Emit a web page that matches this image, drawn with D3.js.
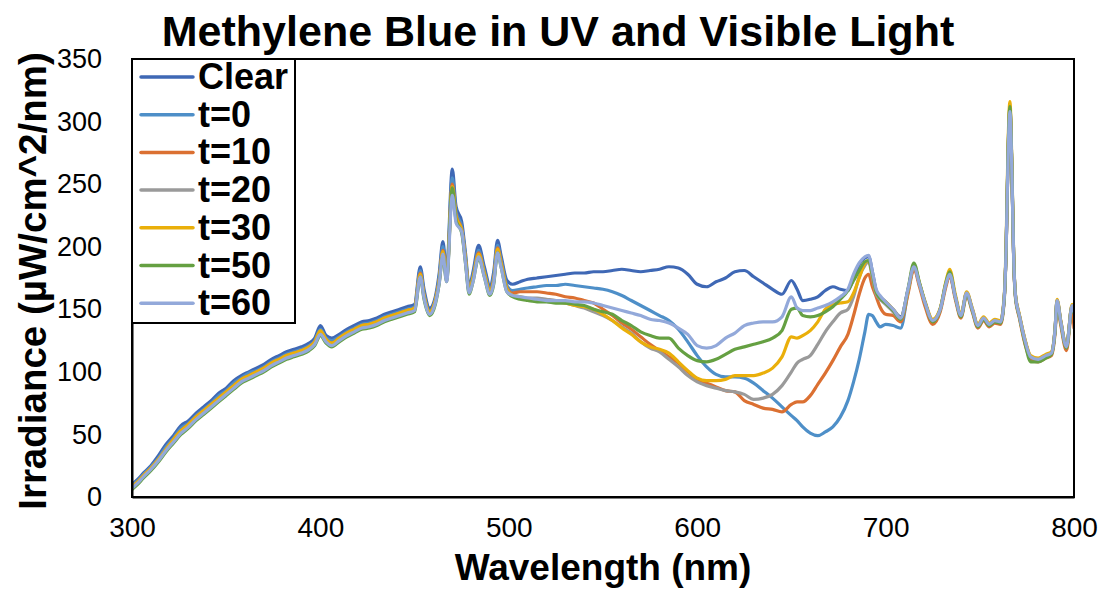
<!DOCTYPE html>
<html><head><meta charset="utf-8">
<script src="https://cdn.jsdelivr.net/npm/d3@7"></script>
<style>
html,body{margin:0;padding:0;background:#fff;}
text{font-family:Arial,"Liberation Sans",sans-serif;}
</style></head>
<body><svg id="c" width="1105" height="590"></svg>
<script>
// ---------- DATA ----------
const wavelength = [
 300,303,306,310,314,318,322,326,330,334,
 338,342,346,350,354,358,362,366,370,374,
 378,382,386,390,394,397,400,403,406,410,
 414,418,422,426,430,434,438,442,446,450,
 453,455,458,461,463,465,467,470,472,475,
 477,479,481,484,487,490,492,494,496,499,
 502,506,510,515,520,525,530,535,540,545,
 550,555,560,565,570,575,580,585,590,595,
 600,605,610,615,620,625,630,635,640,645,
 650,653,656,660,664,668,672,676,680,683,
 686,689,691,693,695,697,700,704,708,712,
 715,718,721,725,729,732,734,737,740,743,
 746,749,752,755,758,761,763,764,765,766,
 767,768,769,771,774,777,781,785,788,790,
 791,793,796,799,800
];
const seriesNames = ["Clear","t=0","t=10","t=20","t=30","t=50","t=60"];
const clear = [
 10,14,19,25,33,42,49,57,61,67,
 72,77,83,87,93,97,100,103,106,110,
 113,116,118,120,123,127,137,129,127,130,
 134,137,140,141,143,146,148,150,152,154,
 184,166,151,160,178,204,180,262,232,220,
 195,168,180,201,184,169,180,205,192,173,
 170,172,174,175,176,177,178,179,179,180,
 180,181,182,181,180,181,182,184,183,178,
 170,168,172,175,180,181,176,171,166,162,
 173,166,157,158,160,165,168,166,165,175,
 186,191,192,180,165,160,156,150,144,166,
 183,170,155,141,150,170,177,160,145,163,
 150,137,143,138,141,140,160,200,272,310,
 262,190,160,145,125,112,110,113,115,135,
 157,140,120,153,148
];
const t0 = [
 9,13,18,24,31,40,47,55,59,65,
 70,75,81,85,91,95,99,101,104,108,
 111,114,116,118,121,125,134,127,125,128,
 132,135,138,139,141,144,146,148,150,152,
 181,163,149,158,175,200,177,255,228,216,
 192,166,177,197,181,166,177,201,189,169,
 165,166,167,168,169,169,170,169,168,167,
 166,164,161,157,153,149,145,141,134,124,
 113,104,98,96,96,95,91,85,79,72,
 65,61,56,51,49,52,56,64,77,92,
 110,132,146,145,140,136,138,137,135,165,
 184,170,155,141,150,170,179,160,145,163,
 150,137,143,138,141,140,160,200,275,311,
 265,190,160,145,125,112,110,113,115,135,
 157,140,120,153,148
];
const t10 = [
 8,12,17,23,30,38,46,53,58,64,
 69,74,79,84,89,94,97,100,103,107,
 110,113,115,117,120,124,132,126,123,127,
 131,134,137,138,140,143,145,147,149,151,
 179,161,148,157,173,197,175,250,225,214,
 190,165,175,195,179,164,174,199,187,167,
 163,164,164,164,163,162,160,159,157,155,
 150,145,139,134,128,122,117,112,107,100,
 94,91,88,85,84,77,74,71,70,68,
 74,76,76,81,90,99,109,120,130,145,
 162,175,178,168,160,152,146,145,140,163,
 182,168,152,138,148,168,177,158,143,161,
 148,135,141,136,139,138,158,198,270,308,
 262,188,158,143,122,110,108,111,113,132,
 154,137,117,150,135
];
const t20 = [
 8,12,16,22,30,38,45,52,57,63,
 68,73,78,83,88,93,96,99,102,106,
 109,112,114,116,119,123,131,125,122,126,
 130,133,136,137,139,142,144,146,148,150,
 177,160,147,156,171,195,174,246,223,213,
 189,164,174,193,178,163,172,197,185,166,
 161,160,159,159,158,157,155,153,151,148,
 145,141,136,131,124,119,116,110,104,97,
 92,89,87,85,84,82,78,79,82,89,
 100,107,110,113,122,132,140,147,150,160,
 176,185,188,175,162,158,154,148,142,166,
 184,170,155,141,150,170,179,160,145,163,
 150,137,143,138,141,140,160,200,275,312,
 265,190,160,145,125,112,110,113,115,135,
 157,140,120,153,148
];
const t30 = [
 8,12,17,23,30,38,46,53,58,64,
 69,74,79,84,89,94,97,100,103,107,
 110,113,115,117,120,124,133,126,123,127,
 131,134,137,138,140,143,145,147,149,151,
 178,161,148,157,172,196,175,248,224,213,
 190,165,175,194,179,164,173,198,186,166,
 161,160,158,157,157,156,155,153,152,150,
 146,141,135,130,124,120,118,115,108,101,
 95,93,93,94,97,97,97,99,103,112,
 128,127,129,133,140,150,154,155,156,163,
 175,187,189,178,164,160,156,150,143,166,
 185,171,156,142,151,172,182,162,146,164,
 151,138,144,139,142,141,162,205,282,316,
 268,192,161,146,126,113,111,114,116,136,
 158,141,121,154,149
];
const t50 = [
 6,10,15,21,28,36,43,50,55,61,
 66,71,76,81,86,91,94,97,100,104,
 107,110,112,114,117,121,129,123,120,124,
 128,131,134,135,137,140,142,144,146,148,
 176,158,145,154,170,193,172,247,221,211,
 187,162,172,191,176,161,170,195,183,164,
 160,158,157,156,156,155,155,154,153,150,
 148,146,141,137,132,129,127,127,119,113,
 109,108,110,114,118,120,122,124,127,133,
 150,151,145,144,145,148,152,158,165,173,
 181,188,189,178,164,159,155,149,142,167,
 187,171,155,140,150,171,180,160,144,162,
 149,136,142,137,140,139,159,200,276,312,
 265,190,159,144,123,108,108,111,114,134,
 156,139,119,152,147
];
const t60 = [
 7,11,16,22,29,37,44,51,56,62,
 67,72,77,82,87,92,95,98,101,105,
 108,111,113,115,118,122,130,124,121,125,
 129,132,135,136,138,141,143,145,147,149,
 176,159,146,155,170,194,172,241,219,212,
 187,163,172,192,176,162,171,195,183,164,
 161,160,159,158,157,157,157,156,156,155,
 153,151,149,147,145,142,141,139,135,130,
 121,119,121,127,131,137,139,140,140,144,
 160,151,149,149,151,153,156,160,166,178,
 187,192,193,180,166,161,156,150,143,167,
 184,170,155,141,150,170,178,160,145,163,
 150,137,143,138,141,140,160,200,272,308,
 262,190,160,145,125,112,110,113,115,135,
 157,140,120,153,148
];
const seriesValues = [clear, t0, t10, t20, t30, t50, t60];
const seriesColors = ["#3F68B5","#4E8FC8","#DB7032","#9A9A9A","#EAAF0A","#65A042","#93A9DA"];
const xTicks = [300,400,500,600,700,800];
const yTicks = [0,50,100,150,200,250,300,350];

// ---------- CHART ----------
const svg = d3.select("#c");
const L = 132, R = 1074, T = 59, B = 497;
const x = d3.scaleLinear().domain([300,800]).range([L,R]);
const y = d3.scaleLinear().domain([0,350]).range([B,T]);

svg.append("defs").append("clipPath").attr("id","clip")
  .append("rect").attr("x",L).attr("y",T-5).attr("width",R-L).attr("height",B-T+5);

const line = d3.line().x(d=>x(d[0])).y(d=>y(d[1])).curve(d3.curveMonotoneX);
const g = svg.append("g").attr("clip-path","url(#clip)");
seriesValues.forEach((vals,i)=>{
  const n = Math.min(vals.length, wavelength.length);
  const pts = d3.range(n).map(k=>[wavelength[k], vals[k]]);
  g.append("path").datum(pts).attr("d",line)
    .attr("fill","none").attr("stroke",seriesColors[i])
    .attr("stroke-width",3.2).attr("stroke-linejoin","round").attr("stroke-linecap","round");
});

// plot frame
svg.append("rect").attr("x",L).attr("y",T).attr("width",R-L).attr("height",B-T)
  .attr("fill","none").attr("stroke","#000").attr("stroke-width",2);

// axes
const xAxis = d3.axisBottom(x).tickValues(xTicks).tickSize(0).tickPadding(20);
const gx = svg.append("g").attr("transform",`translate(0,${B})`).call(xAxis);
gx.select(".domain").attr("stroke","#000").attr("stroke-width",2);
gx.selectAll("text").attr("font-size",28).attr("fill","#000")
  .attr("font-family","Arial, 'Liberation Sans', sans-serif");

const yAxis = d3.axisLeft(y).tickValues(yTicks).tickSize(0).tickPadding(30);
const gy = svg.append("g").attr("transform",`translate(${L},0)`).call(yAxis);
gy.select(".domain").attr("stroke","#000").attr("stroke-width",2);
gy.selectAll("text").attr("font-size",27).attr("fill","#000")
  .attr("font-family","Arial, 'Liberation Sans', sans-serif");

// title
svg.append("text").attr("x",558).attr("y",46).attr("text-anchor","middle")
  .attr("font-size",43).attr("font-weight","bold").text("Methylene Blue in UV and Visible Light");

// axis titles
svg.append("text").attr("x",603).attr("y",580).attr("text-anchor","middle")
  .attr("font-size",37).attr("font-weight","bold").text("Wavelength (nm)");
svg.append("text").attr("transform","translate(46,281) rotate(-90)").attr("text-anchor","middle")
  .attr("font-size",38.5).attr("font-weight","bold").text("Irradiance (µW/cm^2/nm)");

// legend
const lg = svg.append("g");
lg.append("rect").attr("x",132).attr("y",59).attr("width",163).attr("height",264)
  .attr("fill","#fff").attr("stroke","#000").attr("stroke-width",2);
seriesNames.forEach((nm,i)=>{
  const yy = 77 + i*37.7;
  lg.append("line").attr("x1",141).attr("x2",193).attr("y1",yy).attr("y2",yy)
    .attr("stroke",seriesColors[i]).attr("stroke-width",3.5).attr("stroke-linecap","round");
  lg.append("text").attr("x",198).attr("y",yy+12).attr("font-size",36)
    .attr("font-weight","bold").text(nm);
});
</script></body></html>
